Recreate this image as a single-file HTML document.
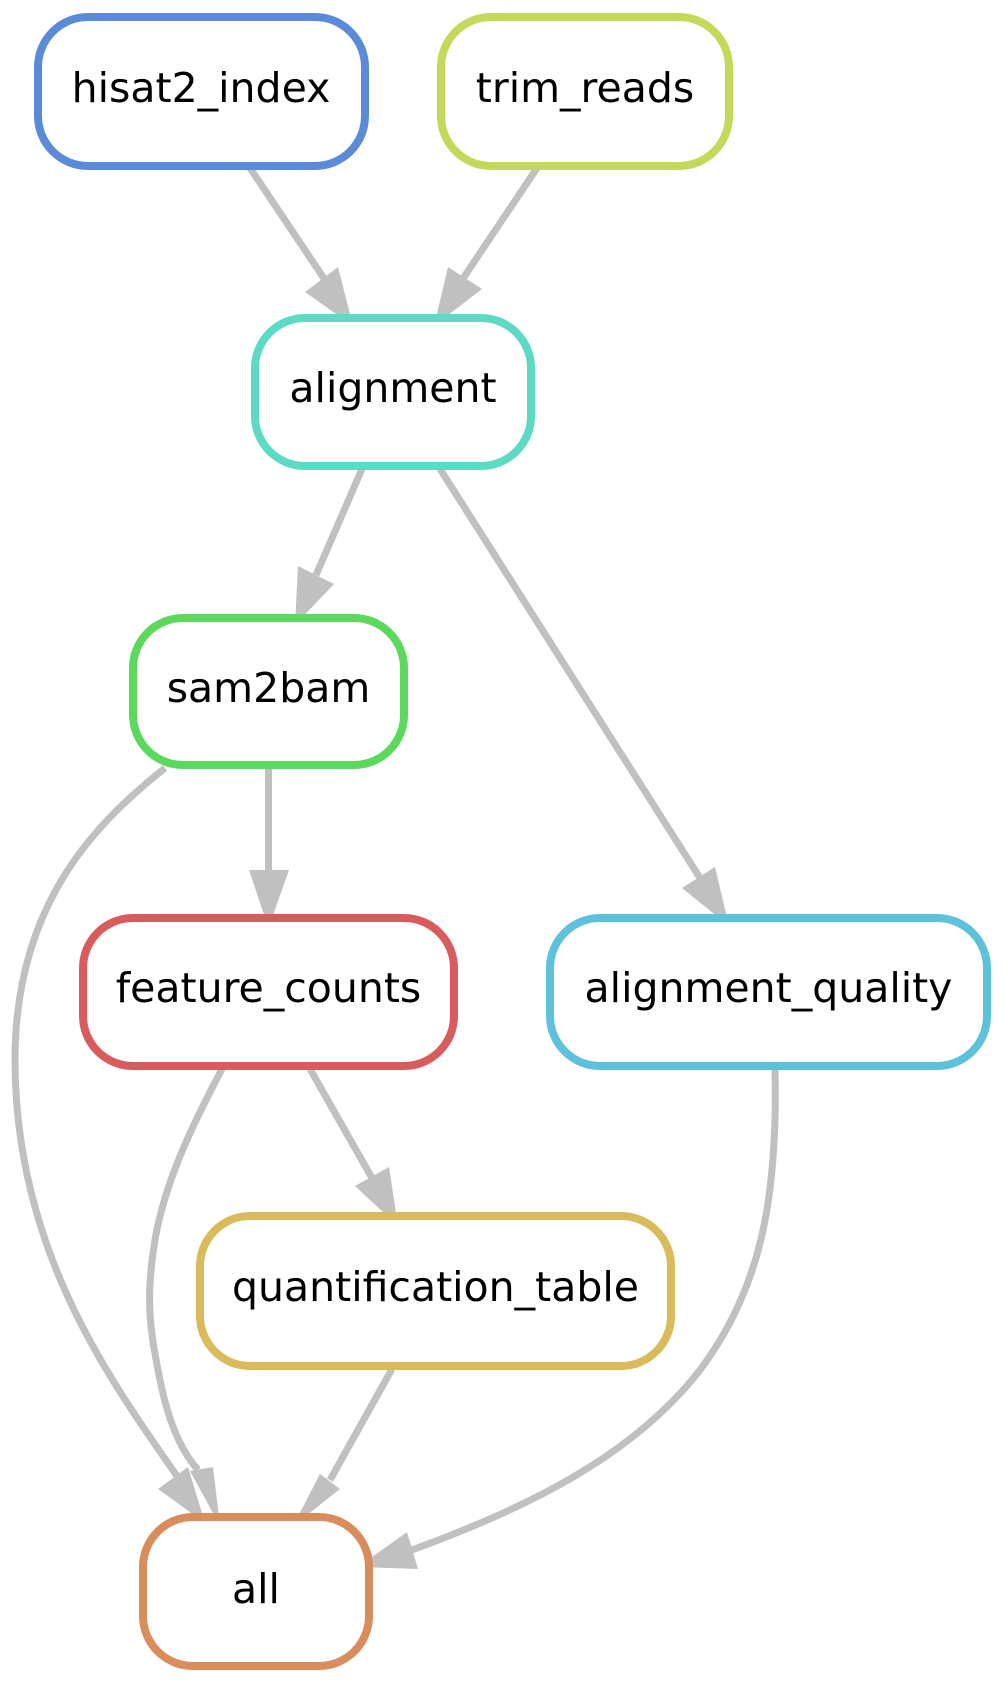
<!DOCTYPE html>
<html><head><meta charset="utf-8"><style>
html,body{margin:0;padding:0;background:#fff;}
svg{display:block;}
text{font-family:"DejaVu Sans","Liberation Sans",sans-serif;font-size:41px;fill:#000;text-anchor:middle;}
</style></head><body>
<svg width="1004" height="1683" viewBox="0 0 1004 1683" xmlns="http://www.w3.org/2000/svg">
<g fill="none" stroke="#c0c0c0" stroke-width="7">
<path d="M250,168 L325,280"/>
<path d="M537,168 L462,280"/>
<path d="M362,469 L316,575"/>
<path d="M440,469 L700,878"/>
<path d="M268.5,768 L268.5,872"/>
<path d="M165,768 C100,820 15,900 15,1060 C15,1250 110,1380 177,1476"/>
<path d="M222,1069 C195,1120 165,1180 155,1240 C145,1300 150,1330 160,1380 C168,1420 180,1450 198,1470"/>
<path d="M310,1069 L372,1178"/>
<path d="M392,1369 L330,1480"/>
<path d="M775,1069 C778,1200 760,1290 700,1370 C630,1460 520,1510 412,1550"/>
</g>
<g fill="#c0c0c0" stroke="none">
<polygon points="353,326 305,292 338,267"/>
<polygon points="434,326 482,289 448,267"/>
<polygon points="295,625 298,566 334,584"/>
<polygon points="729,926 682,888 715,867"/>
<polygon points="268.5,928 249,870 289,870"/>
<polygon points="205,1523 158,1489 188,1467"/>
<polygon points="220,1526 190,1471 213,1467"/>
<polygon points="398,1226 355,1186 389,1167"/>
<polygon points="293,1526 320,1474 340,1489"/>
<polygon points="358,1567 407,1532 418,1569"/>
</g>
<g fill="#fff" stroke-width="8">
<rect x="38" y="17" width="327" height="149" rx="50" stroke="#5b8bd8"/>
<rect x="441" y="17" width="288" height="149" rx="50" stroke="#c3d95a"/>
<rect x="255" y="318" width="276" height="148" rx="50" stroke="#5cdac4"/>
<rect x="133" y="618" width="271" height="147" rx="50" stroke="#5cd95c"/>
<rect x="83" y="918" width="371" height="148" rx="50" stroke="#d95c5c"/>
<rect x="550" y="918" width="437" height="148" rx="50" stroke="#5cc1d9"/>
<rect x="200" y="1216" width="471" height="150" rx="50" stroke="#d9bb5c"/>
<rect x="143" y="1517" width="226" height="149" rx="50" stroke="#d98d5c"/>
</g>
<text x="201" y="102">hisat2_index</text>
<text x="585" y="102">trim_reads</text>
<text x="393" y="402">alignment</text>
<text x="268.5" y="702">sam2bam</text>
<text x="268.5" y="1002">feature_counts</text>
<text x="768.5" y="1002">alignment_quality</text>
<text x="435.5" y="1301">quantification_table</text>
<text x="256" y="1603">all</text>
</svg>
</body></html>
